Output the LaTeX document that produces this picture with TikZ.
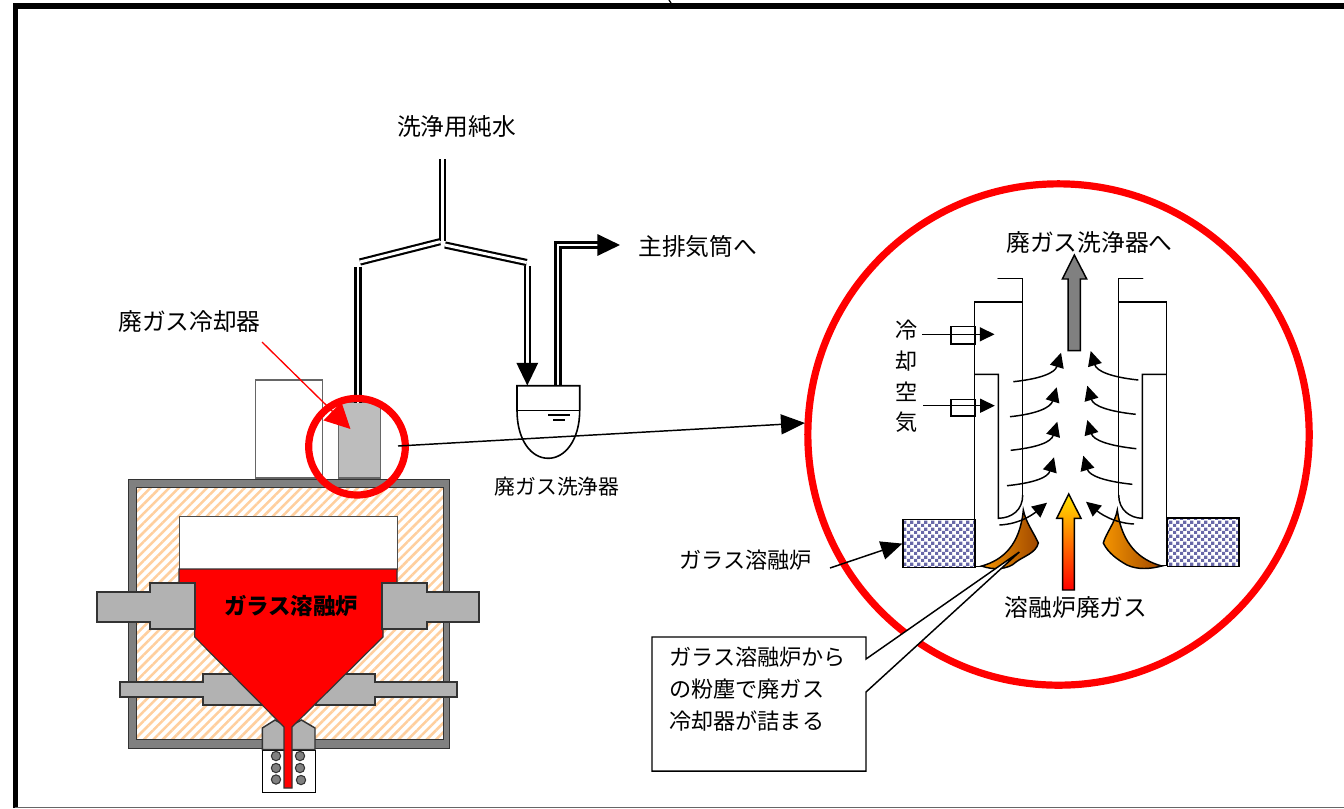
\documentclass[tikz,border=0pt]{standalone}
\usepackage{fontspec}
\setmainfont{Noto Sans CJK JP}
\usepackage{xcolor}
\usetikzlibrary{arrows.meta,patterns,patterns.meta,positioning,shadings}
\definecolor{pipegray}{HTML}{808080}
\definecolor{partgray}{HTML}{B2B2B2}
\definecolor{coolgray}{HTML}{BDBDBD}
\definecolor{brickblue}{HTML}{6868A8}
\definecolor{slagbrown}{HTML}{A04800}
\definecolor{slagorange}{HTML}{F49400}
\pgfdeclarepatternformonly{finecheck}{\pgfqpoint{0pt}{0pt}}{\pgfqpoint{5pt}{5pt}}{\pgfqpoint{5pt}{5pt}}{
	\pgfpathrectangle{\pgfqpoint{0pt}{0pt}}{\pgfqpoint{2.5pt}{2.5pt}}
	\pgfpathrectangle{\pgfqpoint{2.5pt}{2.5pt}}{\pgfqpoint{2.5pt}{2.5pt}}
	\pgfusepath{fill}
}
\begin{document}
\begin{tikzpicture}[
	x=0.75pt,y=-0.75pt,
	label/.style={inner sep=0pt,font=\fontsize{17.8pt}{20pt}\selectfont},
	smalllabel/.style={inner sep=0pt,font=\fontsize{16.6pt}{24pt}\selectfont},
	part/.style={draw=black!80,line width=1.1pt,fill=partgray},
	wall/.style={draw=black,line width=1.1pt},
	pipe/.style={draw=black,line width=1.6pt,double=white,double distance=2.2pt},
	bigtip/.style={-{Triangle[length=17pt,width=16pt]}},
	flow/.style={draw=black,line width=1.1pt,-{Triangle[length=11pt,width=10.5pt]}},
	ring/.style={draw=red,line width=5.4pt},
	brick/.style={draw=black,line width=1.3pt,preaction={fill=white},pattern=finecheck,pattern color=brickblue},
	slag/.style={draw=black,line width=1.1pt,left color=slagorange,right color=slagbrown}
	]
	
	\useasboundingbox (0,0) rectangle (1344,808);
	
	% frame
	\draw [black,line width=4pt] (15.5,808) -- (15.5,6) -- (1344,6);
	\draw [black!60,line width=0.8pt] (15,807.5) -- (1344,807.5);
	\draw [black,line width=1pt] (669,0) -- (671,3);
	
	% furnace
	\node (wallbox) [draw=black!80,line width=1pt,fill=pipegray,minimum width=240.75pt,minimum height=201.75pt,inner sep=0pt,anchor=north west] at (128,479) {};
	\node (lining) [draw=black!80,line width=0.8pt,preaction={fill=white},pattern={Lines[angle=45,distance=5pt,line width=1.9pt]},pattern color=orange!38,minimum width=230.25pt,minimum height=189pt,inner sep=0pt,anchor=north west] at (135,486) {};
	\node (chamber) [draw=black!70,line width=0.8pt,fill=white,minimum width=163.5pt,minimum height=40pt,inner sep=0pt,anchor=north west] at (179,516) {};
	\node (cooler) [draw=black!60,line width=0.8pt,fill=white,minimum width=50.7pt,minimum height=73.5pt,inner sep=0pt,anchor=south west] at (254.7,478.5) {};
	\node (duct) [draw=black!60,line width=0.8pt,fill=coolgray,minimum width=31.2pt,minimum height=56.5pt,inner sep=0pt,anchor=south west] at (338.3,478.5) {};
	
	% lower electrodes
	\draw [part] (120,682) -- (203,682) -- (203,674) -- (262,674) -- (262,705) -- (203,705) -- (203,697) -- (120,697) -- cycle;
	\draw [part] (457,682) -- (375,682) -- (375,674) -- (316,674) -- (316,705) -- (375,705) -- (375,697) -- (457,697) -- cycle;
	
	% nozzle
	\node (coilbox) [draw=black,line width=0.8pt,fill=white,minimum width=39.5pt,minimum height=32pt,inner sep=0pt,anchor=north west] at (262.3,749.5) {};
	\draw [part] (262.3,749.5) -- (262.3,728) -- (275,720) -- (288,727) -- (301.5,720) -- (315,728) -- (315,749.5) -- cycle;
	\foreach \cx/\cy [count=\i] in {276/756,300/756,276/768,300/768,276/779.5,301/780}
		\node (coil\i) [circle,draw=black!80,line width=0.8pt,fill=pipegray,minimum size=7pt,inner sep=0pt] at (\cx,\cy) {};
	
	% glass melt
	\draw [draw=black!80,line width=0.9pt,fill=red] (179,590) -- (179,569) -- (397,569) -- (397,590) -- (383,590) -- (383,637) -- (292,727) -- (292,788) -- (284,788) -- (284,727) -- (194.7,637) -- (194.7,590) -- cycle;
	
	% upper electrodes
	\draw [part] (97,592) -- (150,592) -- (150,583) -- (195,583) -- (195,629) -- (150,629) -- (150,622) -- (97,622) -- cycle;
	\draw [part] (479,592) -- (427,592) -- (427,583) -- (382,583) -- (382,629) -- (427,629) -- (427,622) -- (479,622) -- cycle;
	\node (melt) [inner sep=0pt,font=\fontsize{16.8pt}{20pt}\selectfont\bfseries] at (291,606) {ガラス溶融炉};
	
	% pipes
	\coordinate (feedtop) at (442.7,159);
	\coordinate (feedmid) at (442.7,241);
	\coordinate (forkleft) at (360,262);
	\coordinate (forkright) at (526.7,262.5);
	\draw [pipe] (feedtop) -- (feedmid);
	\draw [pipe] (440,241.7) -- (forkleft);
	\draw [pipe] (445,245) -- (forkright);
	\draw [pipe] (358,266.7) -- (358,403);
	\draw [pipe,bigtip] (527.3,266) -- (527.3,385.5);
	\draw [pipe,bigtip] (558,385.5) -- (558,245) -- (620,245);
	
	% scrubber
	\draw [wall,line width=1.2pt,fill=white] (517,410.3) -- (517,385.7) -- (579.7,385.7) -- (579.7,410.3) .. controls (579.7,440) and (565,458.3) .. (548.3,458.3) .. controls (531,458.3) and (517,440) .. (517,410.3) -- cycle;
	\draw [wall,line width=1.2pt] (517,410.3) -- (579.7,410.3);
	\draw [wall] (548,415) -- (570,415);
	\draw [wall] (553,420) -- (565,420);
	
	% labels
	\node (water) [label] at (456.5,127) {洗浄用純水};
	\node (stack) [label,anchor=west] at (638,247) {主排気筒へ};
	\node (coolerlabel) [label] at (189.5,322) {廃ガス冷却器};
	\node (scrublabel) [inner sep=0pt,font=\fontsize{15.6pt}{20pt}\selectfont] at (557,487) {廃ガス洗浄器};
	
	% red marks
	\coordinate (arrowstart) at (262,342);
	\coordinate (arrowend) at (350.5,429);
	\draw [red,line width=1pt,-{Triangle[length=19pt,width=19pt]}] (arrowstart) -- (arrowend);
	\node (smallring) [circle,ring,minimum size=72.5pt,inner sep=0pt] at (357,446.7) {};
	\node (bigring) [circle,ring,minimum size=376pt,inner sep=0pt] at (1058.5,434.5) {};
	\coordinate (linkstart) at (398,446);
	\coordinate (linkend) at (805,423);
	\draw [black,line width=1.1pt,-{Triangle[length=18pt,width=15pt]}] (linkstart) -- (linkend);
	
	% cooler close-up
	\node (brickleft) [brick,minimum width=54pt,minimum height=36pt,inner sep=0pt,anchor=north west] at (902.3,518.7) {};
	\node (brickright) [brick,minimum width=53.7pt,minimum height=36.3pt,inner sep=0pt,anchor=north west] at (1166.7,517.3) {};
	\draw [wall,line cap=round] (998,278.3) -- (1022.7,278.3) -- (1022.7,497);
	\draw [wall] (1022.7,302) -- (974.3,302) -- (974.3,566.7) -- (985,566.7);
	\draw [wall] (974.3,374.3) -- (998.3,374.3) -- (998.3,518.3) .. controls (1012,518) and (1022.7,510) .. (1022.7,495);
	\draw [wall,line cap=round] (1142.7,278.3) -- (1118.7,278.3) -- (1118.7,497);
	\draw [wall] (1118.7,302) -- (1166.7,302) -- (1166.7,565.7) -- (1158,565.7);
	\draw [wall] (1166.7,374.3) -- (1142.3,374.3) -- (1142.3,518.3) .. controls (1130,518) and (1118.7,510) .. (1118.7,495);
	
	% inlets
	\node (inletup) [draw=black,line width=1.1pt,minimum width=18pt,minimum height=13pt,inner sep=0pt,anchor=north west] at (950.3,326) {};
	\node (inletlow) [draw=black,line width=1.1pt,minimum width=18pt,minimum height=12.5pt,inner sep=0pt,anchor=north west] at (950.3,398.7) {};
	\coordinate (airup) at (922.3,334.3);
	\coordinate (airuptip) at (994.5,334.3);
	\coordinate (airlow) at (923.3,405.7);
	\coordinate (airlowtip) at (994.8,405.7);
	\draw [flow] (airup) -- (airuptip);
	\draw [flow] (airlow) -- (airlowtip);
	\node (cool) [smalllabel] at (906.7,330) {冷};
	\node (kyaku) [smalllabel,below=7.6pt of cool] {却};
	\node (sora) [smalllabel,below=7.6pt of kyaku] {空};
	\node (ki) [smalllabel,below=7.6pt of sora] {気};
	
	% slag
	\draw [slag] (1023.3,510) .. controls (1026,523) and (1034,533) .. (1038.3,543) .. controls (1036,553) and (1024,556) .. (1016,562) .. controls (1008,570) and (992,570) .. (981.7,566) .. controls (1003,560) and (1020,545) .. (1023.3,510) -- cycle;
	\draw [slag] (1117.3,510) .. controls (1115,523) and (1106,533) .. (1103.3,543) .. controls (1108,553) and (1118,560) .. (1127,565) .. controls (1138,570) and (1150,569) .. (1161.7,566) .. controls (1140,560) and (1122,545) .. (1117.3,510) -- cycle;
	
	% flows
	\foreach \sx/\sy/\tx/\ty [count=\i] in {1013.3/381.7/1061/352.7,1010/416.7/1056.7/387.3,1010.7/450.3/1057.3/421.7,1007/485.7/1054/457.3}{
		\coordinate (fl\i) at (\sx,\sy);
		\coordinate (tl\i) at (\tx,\ty);
		\draw [flow] (fl\i) .. controls +(28,-3) and +(-6,20) .. (tl\i);
	}
	\foreach \sx/\sy/\tx/\ty [count=\i] in {1138.3/380/1090.7/351,1135.7/414.3/1087.3/385.7,1136.3/448.7/1087.3/420,1132.3/484.3/1083.3/455.7}{
		\coordinate (fr\i) at (\sx,\sy);
		\coordinate (tr\i) at (\tx,\ty);
		\draw [flow] (fr\i) .. controls +(-28,-3) and +(6,20) .. (tr\i);
	}
	\coordinate (fl5) at (999.3,525);
	\coordinate (tl5) at (1047,502.7);
	\coordinate (fr5) at (1134,524);
	\coordinate (tr5) at (1086,501.7);
	\draw [flow] (fl5) .. controls +(22,-1) and +(-12,10) .. (tl5);
	\draw [flow] (fr5) .. controls +(-22,-1) and +(12,10) .. (tr5);
	
	% gas arrows
	\draw [draw=black,line width=1.1pt,fill=pipegray] (1068,350.7) -- (1080.3,350.7) -- (1080.3,279) -- (1086.7,279) -- (1074.3,255) -- (1062.3,279) -- (1068,279) -- cycle;
	\draw [draw=black,line width=1.1pt,top color=yellow!80!orange,bottom color=red] (1062.7,590) -- (1074.3,590) -- (1074.3,518.3) -- (1081,518.3) -- (1068.7,494) -- (1056.7,518.3) -- (1062.7,518.3) -- cycle;
	\node (tocleaner) [label] at (1089.5,243) {廃ガス洗浄器へ};
	\node (offgas) [label] at (1076,608) {溶融炉廃ガス};
	
	% melter label
	\node (glass) [smalllabel] at (745.5,560) {ガラス溶融炉};
	\coordinate (glassarrow) at (830,568);
	\draw [black,line width=1.1pt,-{Triangle[length=16pt,width=14pt]}] (glassarrow) -- (brickleft.west);
	
	% callout
	\draw [wall,fill=white] (652,637) -- (866,637) -- (866,659) -- (1019.3,552) -- (866,692) -- (866,771) -- (652,771) -- cycle;
	\node (note) [smalllabel,align=left,anchor=north west] at (669,647) {ガラス溶融炉から\\の粉塵で廃ガス\\冷却器が詰まる};
\end{tikzpicture}
\end{document}
